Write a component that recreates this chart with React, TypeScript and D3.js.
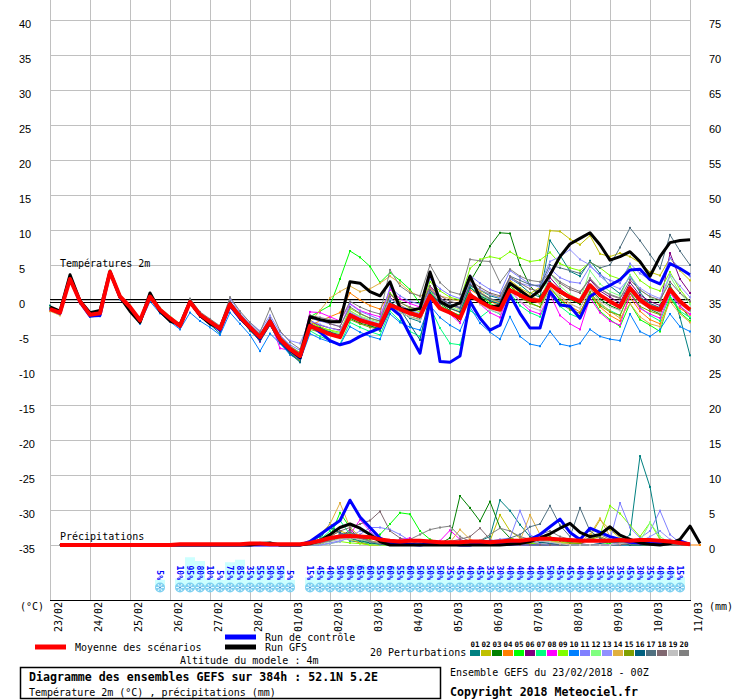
import React from 'react';
import * as d3 from 'd3';

// dates, one tick per day (00Z)
const dayLabels = ['23/02', '24/02', '25/02', '26/02', '27/02', '28/02', '01/03', '02/03', '03/03',
  '04/03', '05/03', '06/03', '07/03', '08/03', '09/03', '10/03', '11/03'];
const leftTicks = [40, 35, 30, 25, 20, 15, 10, 5, 0, -5, -10, -15, -20, -25, -30, -35];
const rightTicks = [75, 70, 65, 60, 55, 50, 45, 40, 35, 30, 25, 20, 15, 10, 5, 0];

const memberColors = ['#008080', '#c0c000', '#008000', '#ff8000', '#00ff00', '#800080', '#00ff80', '#ff00ff',
  '#80ff00', '#0080ff', '#8080ff', '#80ff80', '#9090ff', '#e0b040', '#80a000', '#006080', '#507080', '#806870',
  '#c0c0c0', '#808080'];

// 2m temperature, one value every 6h (0..384h)
const tMean = [-1.3, -1.8, 3.0, -0.2, -2.1, -1.9, 4.0, 0.5, -1.0, -2.9, 0.5, -1.4, -2.6, -3.7, -0.3, -2.1, -3.1, -4.1, -0.6, -2.4, -3.9, -5.3, -3.1, -5.6, -7.0, -8.0,
  -3.7, -4.3, -4.9, -5.3, -2.2, -2.9, -3.3, -3.7, -0.7, -1.3, -1.9, -2.3, 0.6, -1.2, -1.8, -2.6, 0.7, -0.2, -1.0, -1.4, 1.4, 0.7, 0.0, -0.1, 2.3, 1.2, 0.4, -0.2, 2.1, 0.7, -0.2, -1.0, 1.7, 0.0, -1.0, -1.4, 1.5, -0.2, -1.4];
const tCtl = [-1.2, -1.9, 3.2, -0.3, -2.3, -2.2, 4.0, 0.4, -1.2, -3.0, 0.5, -1.5, -2.7, -3.8, -0.3, -2.2, -3.2, -4.3, -0.8, -2.6, -4.0, -5.5, -3.2, -5.8, -7.2, -8.3,
  -3.5, -4.6, -5.8, -6.4, -6.0, -5.2, -4.6, -4.0, -1.0, -2.2, -5.0, -7.6, 0.0, -8.8, -8.9, -8.0, -0.2, -2.6, -4.3, -3.6, 0.7, -1.9, -4.0, -4.0, 1.2, -0.7, -0.9, -2.6, 0.5, 1.4, 2.1, 2.9, 4.3, 4.4, 2.9, 2.3, 5.2, 4.5, 3.6];
const tGfs = [-1.0, -1.6, 3.6, -0.1, -1.8, -1.5, 4.1, 0.4, -1.6, -3.2, 1.0, -1.6, -3.0, -3.5, -0.2, -2.2, -3.4, -4.0, -0.5, -2.5, -4.0, -5.4, -3.0, -5.6, -7.1, -8.2,
  -2.4, -2.8, -3.1, -3.1, 2.6, 2.4, 1.2, 0.6, 2.6, -1.2, -1.5, -1.2, 4.0, -0.2, -1.0, -0.4, 3.4, 0.3, -1.0, -0.8, 2.4, 1.4, 0.3, 1.4, 3.6, 6.2, 8.0, 8.8, 9.6, 7.9, 5.7, 6.2, 6.9, 5.5, 3.4, 6.2, 8.2, 8.5, 8.6];

const t01 = [-0.8, -1.9, 3.2, -0.3, -2.4, -2.3, 3.8, 0.3, -1.3, -3.3, 0.6, -1.7, -2.9, -3.9, -0.4, -2.4, -3.5, -4.8, -0.5, -2.6, -4.4, -5.6, -2.8, -5.9, -7.8, -8.6,
  -2.8, -3.9, -4.6, -5.1, -1.9, -2.8, -3.6, -4.4, -0.2, -1.5, -2.6, -3.1, 1.2, -0.8, -1.8, -2.2, 2.0, 1.4, 0.6, 0.2, 3.1, 2.2, 1.0, 0.4, 8.5, 6.4, 4.1, 3.4, 5.6, 3.8, 2.0, 0.9, 3.5, 1.1, -0.6, -1.8, 2.2, -2.5, -7.9];
const t02 = [-1.5, -2.0, 2.9, -0.1, -2.0, -1.8, 4.1, 0.6, -0.9, -2.8, 0.4, -1.3, -2.5, -3.6, -0.2, -2.0, -3.0, -4.0, -0.7, -2.3, -3.8, -5.1, -3.3, -5.4, -6.9, -7.7,
  -3.2, -3.8, -4.4, -4.8, -1.5, -2.4, -3.0, -3.5, 0.3, -0.8, -1.6, -2.1, 1.5, 0.2, -0.7, -1.3, 2.2, 1.4, 0.8, 0.4, 2.8, 1.7, 0.9, 1.8, 9.9, 9.8, 8.7, 7.9, 9.2, 6.6, 6.2, 6.7, 6.2, 5.3, 4.0, 3.5, 6.0, 4.2, 2.8];
const t03 = [-1.2, -1.7, 3.1, -0.2, -2.2, -2.0, 3.9, 0.4, -1.1, -3.0, 0.5, -1.5, -2.7, -3.8, -0.5, -2.3, -3.3, -4.4, -0.9, -2.5, -4.1, -5.6, -3.4, -6.0, -7.3, -8.4,
  -4.0, -4.5, -5.0, -5.4, -2.6, -3.3, -3.7, -4.1, -0.5, -1.4, -2.0, -2.5, 0.8, -0.5, -1.5, -3.2, 2.6, 5.0, 7.7, 9.6, 9.5, 5.0, 2.0, 0.5, 2.6, 1.0, 0.1, -0.6, 1.6, 0.1, -0.8, -1.4, 1.8, -0.2, -1.3, -2.0, 1.3, -0.8, -2.6];
const t04 = [-1.4, -1.8, 2.8, -0.4, -2.1, -2.0, 3.9, 0.6, -0.8, -2.7, 0.7, -1.2, -2.4, -3.5, -0.1, -2.0, -3.0, -3.9, -0.4, -2.2, -3.8, -5.2, -3.0, -5.5, -6.8, -7.8,
  -3.6, -3.0, -2.4, -1.8, 1.0, 0.0, -0.8, -1.3, 0.9, -0.7, -1.5, -2.0, 0.9, -0.4, -1.2, -1.8, 1.5, 0.6, -0.2, -0.8, 2.0, 0.9, 0.1, -0.5, 1.6, 0.2, -0.9, -1.7, 0.9, -1.0, -2.2, -3.0, 0.4, -1.6, -2.8, -3.4, 0.0, -1.2, -2.1];
const t05 = [-1.3, -1.7, 3.0, -0.1, -2.0, -1.8, 4.1, 0.6, -0.9, -2.8, 0.6, -1.3, -2.5, -3.6, -0.2, -2.0, -3.1, -4.0, -0.5, -2.4, -3.9, -5.8, -3.5, -6.2, -7.5, -8.8,
  -2.4, -1.6, -0.8, 3.0, 7.0, 6.1, 4.8, 2.5, 3.9, 2.8, 1.5, -0.5, 1.5, -0.8, -1.6, -2.2, 1.8, 0.7, -0.5, -1.2, 2.0, 0.6, -0.4, -1.0, 1.9, 0.0, -1.2, -2.4, 0.8, -1.6, -2.8, -3.8, -0.5, -2.8, -3.6, -4.5, 0.4, -1.8, -3.0];
const t06 = [-1.2, -1.9, 3.0, -0.2, -2.2, -1.9, 4.0, 0.5, -1.0, -2.9, 0.4, -1.4, -2.7, -3.8, -0.4, -2.2, -3.2, -4.3, -0.7, -2.5, -4.0, -5.5, -3.2, -5.8, -7.4, -8.5,
  -3.0, -3.6, -4.0, -4.3, -1.8, -2.6, -3.2, -3.6, 0.4, -1.0, -1.7, -2.0, 1.8, 0.3, -0.6, -1.1, 2.3, 1.0, 0.1, -0.3, 2.6, 1.3, 0.3, -0.4, 3.2, 1.6, 0.5, -0.2, 2.9, 1.3, 0.4, -0.4, 2.5, 0.7, -0.2, -0.8, 6.7, 3.0, 1.0];
const t07 = [-1.4, -1.9, 2.9, -0.3, -2.2, -2.0, 3.9, 0.4, -1.1, -3.0, 0.5, -1.5, -2.6, -3.7, -0.3, -2.2, -3.2, -4.2, -0.6, -2.5, -4.0, -5.4, -3.2, -5.7, -7.2, -8.3,
  -4.4, -5.2, -5.8, -6.3, -3.2, -3.9, -4.5, -5.0, -1.6, -3.0, -4.5, -5.2, -1.0, -4.0, -6.2, -6.4, -1.5, -2.5, -1.4, -2.0, 1.0, -0.8, -1.8, -2.4, 0.8, -0.9, -2.0, -2.6, 1.0, -0.6, -1.5, -2.2, 1.2, -1.0, -2.2, -3.0, 0.6, -1.6, -2.5];
const t08 = [-1.2, -1.7, 3.1, -0.1, -2.0, -1.8, 4.0, 0.6, -1.0, -2.8, 0.5, -1.4, -2.6, -3.6, -0.3, -2.1, -3.0, -4.0, -0.6, -2.3, -3.9, -6.0, -3.0, -6.9, -7.2, -7.8,
  -1.7, -1.8, -2.4, -3.0, -0.5, -1.5, -2.0, -2.4, 1.5, 0.2, -0.5, -1.0, 2.0, -0.8, -2.0, -3.3, 1.2, -0.6, -1.8, -2.5, 1.5, -0.2, -1.5, -2.0, 0.8, -2.2, -3.4, -4.2, 0.3, -1.8, -3.0, -3.6, 0.9, -1.2, -2.0, -2.6, 1.0, -0.9, -2.0];
const t09 = [-1.1, -1.6, 3.2, 0.0, -1.9, -1.7, 4.2, 0.7, -0.8, -2.7, 0.7, -1.2, -2.4, -3.5, -0.1, -1.9, -2.9, -3.8, -0.4, -2.1, -3.6, -5.0, -2.9, -5.3, -6.6, -7.5,
  -3.4, -3.9, -4.3, -4.6, -1.2, -2.0, -2.6, -3.0, 1.0, -0.3, -1.2, -1.7, 2.6, 1.3, 0.4, 0.0, 4.5, 5.8, 6.2, 5.9, 6.9, 6.0, 5.5, 5.7, 6.8, 5.2, 4.6, 4.2, 5.4, 4.6, 3.5, 3.0, 4.8, 2.8, 1.8, 1.3, 4.0, 1.5, -0.3];
const t10 = [-1.5, -2.1, 2.8, -0.5, -2.4, -2.3, 3.6, 0.1, -1.4, -3.4, -0.2, -1.9, -3.1, -4.2, -1.8, -3.0, -3.9, -5.0, -1.8, -3.4, -5.0, -7.3, -4.8, -6.2, -7.8, -8.7,
  -4.8, -5.5, -6.0, -6.4, -3.8, -4.6, -5.2, -5.6, -2.0, -3.2, -3.9, -4.3, -0.8, -2.5, -3.6, -4.4, -1.0, -3.3, -4.6, -5.6, -2.4, -5.2, -6.3, -6.6, -4.5, -6.3, -6.6, -6.2, -4.2, -5.2, -5.6, -5.8, -2.0, -4.5, -5.2, -4.2, -2.0, -3.8, -4.5];
const t11 = [-1.3, -1.8, 3.1, -0.2, -2.0, -1.9, 4.0, 0.5, -1.0, -2.9, 0.5, -1.4, -2.6, -3.7, -0.3, -2.1, -3.1, -4.1, -0.2, -2.0, -3.4, -4.8, -2.5, -5.0, -6.4, -7.2,
  -2.6, -3.0, -3.4, -3.8, -0.6, -1.6, -2.2, -2.8, 1.8, 0.6, -0.2, -0.6, 3.0, 1.6, 0.7, 0.2, 3.5, 2.4, 1.5, 1.0, 4.2, 3.2, 2.3, 1.8, 4.5, 3.2, 2.6, 2.4, 4.8, 3.6, 2.8, 2.4, 5.2, 3.8, 2.9, 2.4, 6.0, 4.5, 3.4];
const t12 = [-1.0, -1.5, 3.3, 0.1, -1.8, -1.6, 4.2, 0.8, -0.8, -2.6, 0.8, -1.1, -2.3, -3.4, 0.0, -1.8, -2.8, -3.8, -0.3, -2.1, -3.6, -5.0, -2.8, -5.2, -6.7, -7.6,
  -3.8, -4.1, -4.5, -4.8, -1.6, -2.3, -2.8, -3.2, 0.2, -0.9, -1.5, -2.0, 1.2, -0.2, -1.0, -1.5, 1.9, 0.8, 0.0, -0.5, 2.4, 1.0, 0.1, -0.4, 3.8, 2.0, 0.8, 0.0, 4.2, 2.3, 1.2, 0.6, 3.6, 1.5, 0.4, -0.3, 3.4, 1.0, -0.6];
const t13 = [-1.4, -1.9, 3.0, -0.3, -2.1, -2.0, 3.9, 0.4, -1.1, -3.0, 0.4, -1.5, -2.7, -3.8, -0.4, -2.2, -3.2, -4.2, 0.2, -1.8, -3.2, -4.4, -2.2, -4.6, -5.8, -6.2,
  -3.0, -3.5, -4.0, -4.4, -1.8, -2.5, -3.0, -3.4, 0.2, -0.8, -1.4, -1.9, 1.6, 0.2, -0.7, -1.2, 2.4, 1.5, 0.8, 0.3, 3.0, 2.4, 2.0, 2.2, 5.5, 6.2, 7.2, 5.8, 5.0, 3.4, 2.2, 1.6, 3.2, 1.7, 0.8, 0.2, 3.6, 2.0, 0.4];
const t14 = [-1.6, -2.2, 2.7, -0.5, -2.3, -2.1, 3.8, 0.3, -1.2, -3.1, 0.3, -1.6, -2.8, -3.9, -0.5, -2.3, -3.3, -4.4, -0.9, -2.7, -4.2, -5.8, -3.6, -6.0, -7.4, -8.4,
  -3.2, -1.5, 0.3, 1.2, 2.0, 1.2, 1.6, 2.4, 3.4, 2.4, 1.2, 0.5, 1.6, 0.6, 0.2, -0.2, 2.8, 1.2, 0.2, -0.4, 2.6, 1.5, 0.6, 0.0, 2.2, 0.6, -0.5, -1.2, 1.7, -0.4, -1.6, -2.6, -0.5, -2.4, -3.4, -3.8, -0.2, -2.0, -3.2];
const t15 = [-1.3, -1.9, 3.0, -0.2, -2.2, -2.0, 3.9, 0.4, -1.1, -3.0, 0.4, -1.5, -2.7, -3.8, -0.4, -2.2, -3.2, -4.2, -0.8, -2.6, -4.0, -5.6, -3.3, -5.9, -7.6, -8.7,
  -4.2, -4.6, -5.0, -5.2, -2.8, -3.4, -3.9, -4.2, -0.6, -1.8, -2.4, -2.8, 0.5, -0.9, -1.8, -2.4, 1.0, -0.1, -0.8, -1.2, 1.6, 0.4, -0.5, -1.0, 1.4, -0.4, -1.4, -1.9, 1.2, -0.8, -1.7, -2.2, 1.0, -0.9, -1.6, -2.1, 2.0, 0.0, -1.2];
const t16 = [-1.2, -1.8, 3.1, -0.2, -2.3, -2.2, 3.8, 0.3, -1.2, -3.1, 0.4, -1.6, -2.8, -3.9, -0.6, -2.4, -3.4, -4.5, -1.0, -2.8, -4.3, -5.9, -3.6, -6.1, -7.6, -8.9,
  -3.5, -4.0, -4.6, -5.0, -2.0, -2.8, -3.3, -3.8, -0.2, -1.3, -3.5, -5.7, 1.0, -0.4, -1.2, -1.7, 1.8, 0.6, -0.1, -0.6, 2.2, 1.2, 0.4, -0.1, 2.6, 1.2, 0.3, -0.3, 2.2, 0.7, -0.1, -0.7, 2.0, 0.4, -0.5, -1.1, 1.8, -0.2, -1.5];
const t17 = [-1.1, -1.7, 3.1, -0.1, -2.0, -1.8, 4.0, 0.5, -1.0, -2.9, 0.6, -1.3, -2.5, -3.6, -0.2, -2.0, -3.0, -4.0, -0.5, -2.3, -3.8, -5.3, -3.0, -5.5, -7.0, -8.1,
  -3.6, -4.2, -4.8, -5.2, -2.4, -3.0, -3.5, -3.9, -0.4, -1.5, -2.1, -2.6, 1.4, 0.2, -0.6, -1.1, 2.2, 1.0, 0.2, -0.2, 3.4, 2.8, 2.2, 2.0, 5.0, 4.6, 4.2, 3.8, 5.4, 4.6, 5.0, 7.5, 10.3, 8.5, 6.5, 4.5, 9.3, 7.0, 5.0];
const t18 = [-1.3, -1.8, 3.0, -0.2, -2.1, -1.9, 4.0, 0.5, -1.0, -2.9, 0.5, -1.4, -2.6, -3.7, -0.3, -2.1, -3.1, -4.1, -0.2, -2.0, -3.6, -4.9, -2.6, -5.2, -6.6, -7.6,
  -2.2, -2.8, -3.4, -3.8, -1.0, -1.9, -2.6, -3.0, 0.8, -0.4, -1.0, -1.4, 2.0, 0.6, -0.2, -0.6, 2.8, 1.8, 1.0, 0.6, 3.3, 2.4, 1.6, 1.2, 3.8, 2.4, 1.5, 1.0, 3.1, 1.6, 0.7, 0.2, 2.9, 1.4, 0.5, 0.0, 2.6, 1.0, -0.2];
const t19 = [-1.4, -2.0, 2.9, -0.3, -2.2, -2.0, 3.9, 0.4, -1.1, -3.0, 0.4, -1.5, -2.7, -3.7, -0.4, -2.2, -3.1, -4.1, -0.7, -2.5, -4.0, -5.4, -3.1, -5.6, -7.1, -8.1,
  -4.0, -4.4, -4.8, -5.1, -2.2, -2.9, -3.4, -3.8, -0.8, -1.8, -2.4, -2.9, 0.4, -1.0, -1.9, -2.5, 0.8, -0.6, -1.4, -1.9, 1.2, -0.2, -1.0, -1.5, 1.8, 0.4, -0.6, -1.2, 1.5, -0.2, -1.0, -1.5, 1.2, -0.4, -1.2, -1.8, 1.1, -0.6, -1.6];
const t20 = [-1.2, -1.7, 3.1, -0.1, -2.0, -1.8, 4.1, 0.6, -0.9, -2.8, 0.6, -1.3, -2.5, -3.6, 0.2, -1.7, -2.7, -3.7, 0.4, -1.6, -3.2, -4.6, -1.2, -4.4, -6.0, -7.0,
  -2.2, -2.5, -2.8, -3.0, -0.2, -1.0, -1.6, -2.0, 4.3, 2.0, 1.0, 0.6, 5.0, 2.5, 1.2, 0.8, 5.8, 5.6, 5.5, 2.5, 4.4, 3.4, 2.8, 2.6, 3.8, 2.6, 1.8, 1.2, 3.0, 1.6, 0.8, 0.3, 2.0, 0.4, -0.6, -1.2, 1.6, -0.4, -1.5];
const tMembers = [t01, t02, t03, t04, t05, t06, t07, t08, t09, t10, t11, t12, t13, t14, t15, t16, t17, t18, t19, t20];

// precipitation (mm / 6h), first value unused
const pMean = [0, 0, 0, 0, 0, 0, 0, 0, 0, 0, 0, 0, 0, 0.1, 0.1, 0.1, 0.1, 0.1, 0.1, 0.1, 0.2, 0.2, 0.1, 0.1, 0.1, 0.1,
  0.3, 0.6, 1.0, 1.2, 1.3, 1.2, 1.1, 0.8, 0.6, 0.5, 0.6, 0.6, 0.5, 0.4, 0.4, 0.4, 0.5, 0.5, 0.4, 0.5, 0.6, 0.6, 0.8, 0.9, 0.9, 0.8,
  0.7, 0.6, 0.6, 0.6, 0.6, 0.7, 0.6, 0.7, 0.7, 0.6, 0.5, 0.3, 0.1];
const pCtl = [0, 0, 0, 0, 0, 0, 0, 0, 0, 0, 0, 0, 0, 0, 0, 0, 0, 0, 0, 0, 0, 0, 0, 0, 0, 0,
  0.5, 1.5, 2.5, 3.5, 6.4, 4.0, 2.5, 1.0, 0.3, 0.2, 0.1, 0, 0.2, 0.3, 0.2, 0, 0, 0.3, 0.5, 0.2, 0.1, 0.4, 0.8, 1.5, 2.6, 3.7,
  1.8, 0.8, 2.4, 1.8, 1.2, 0.8, 0.4, 0.3, 0.2, 0.2, 0.4, 0.6, 0.1];
const pGfs = [0, 0, 0, 0, 0, 0, 0, 0, 0, 0, 0, 0, 0, 0, 0, 0, 0, 0, 0, 0, 0, 0.2, 0.3, 0, 0, 0,
  0.2, 0.6, 1.5, 2.5, 3.0, 2.4, 1.5, 0.5, 0, 0, 0, 0, 0, 0, 0, 0, 0, 0, 0, 0, 0.1, 0.2, 0.5, 1.0, 1.6, 2.4, 3.1,
  1.8, 1.2, 1.5, 2.6, 1.4, 0.8, 0.3, 0.1, 0, 0.2, 0.8, 2.7, 0.2];
const p01 = [0, 0, 0, 0, 0, 0, 0, 0, 0, 0, 0, 0, 0, 0, 0, 0, 0, 0, 0, 0, 0, 0.3, 0.2, 0, 0, 0,
  0.4, 0.8, 3.1, 1.5, 0.6, 0.4, 0.2, 0.1, 0, 0, 0, 0, 0.1, 0.2, 0.3, 0.5, 0.4, 0.6, 1.2, 6.4, 4.9, 2.9, 1.2, 0.8, 0.4, 0.2,
  0.1, 0, 0, 0, 0.1, 0.2, 1.5, 12.7, 8.3, 0.5, 0.2, 0, 0];
const p02 = [0, 0, 0, 0, 0, 0, 0, 0, 0, 0, 0, 0, 0, 0, 0, 0, 0, 0, 0, 0, 0, 0, 0, 0, 0, 0,
  0, 0.5, 1.2, 2.0, 1.5, 0.8, 0.3, 0, 0, 0, 0, 0, 0, 0, 0, 0, 0, 0, 0.6, 4.3, 2.0, 1.0, 0.4, 0.2, 0, 0,
  0, 0, 1.2, 3.6, 2.2, 1.0, 0.3, 0, 0, 0, 0, 0, 0];
const p03 = [0, 0, 0, 0, 0, 0, 0, 0, 0, 0, 0, 0, 0, 0, 0, 0, 0, 0, 0, 0, 0, 0, 0, 0, 0, 0,
  0, 0, 0.8, 1.5, 1.0, 0.4, 0.2, 0, 0, 0, 0, 0, 0, 0.2, 1.0, 7.0, 5.3, 3.4, 6.2, 2.5, 1.0, 0.5, 0.2, 0, 0, 0,
  0, 0, 0, 0, 0, 0.2, 0.4, 0.2, 0, 0, 0, 0, 0];
const p04 = [0, 0, 0, 0, 0, 0, 0, 0, 0, 0, 0, 0, 0, 0, 0, 0, 0, 0, 0, 0, 0, 0.1, 0.1, 0, 0, 0,
  0, 0.2, 0.6, 1.0, 0.8, 0.3, 0, 0, 0, 0, 0, 0, 0, 0, 0, 0, 0, 0, 0, 0, 0, 0.2, 0.4, 0.6, 0.3, 0, 0,
  0, 0, 0, 0, 0, 0.4, 0.6, 0.2, 0, 0, 0, 0, 0];
const p05 = [0, 0, 0, 0, 0, 0, 0, 0, 0, 0, 0, 0, 0, 0, 0, 0, 0, 0, 0, 0, 0, 0, 0, 0, 0, 0,
  0.3, 0.8, 1.2, 4.6, 2.5, 1.2, 0.8, 1.5, 3.0, 4.6, 4.4, 2.0, 0.8, 0.3, 0.2, 0, 0, 0, 0, 0.1, 0.3, 0.5, 0.2, 0, 0, 0,
  0, 0, 0, 0, 0.3, 0.6, 0.3, 0.1, 0, 0, 0, 0, 0];
const p06 = [0, 0, 0, 0, 0, 0, 0, 0, 0, 0, 0, 0, 0, 0, 0, 0, 0, 0, 0, 0, 0, 0, 0, 0, 0, 0,
  0, 0.3, 0.6, 1.0, 2.2, 1.0, 0.4, 0.2, 0, 0, 0, 0, 0, 0, 0, 0, 0, 0, 0, 0.2, 0.4, 0.2, 0, 0.3, 0.6, 0.8,
  0.4, 0.2, 0, 0, 0, 0, 0, 0, 0, 0, 0, 0, 0];
const p07 = [0, 0, 0, 0, 0, 0, 0, 0, 0, 0, 0, 0, 0, 0, 0, 0, 0, 0, 0, 0, 0, 0, 0, 0, 0, 0,
  0.2, 0.8, 2.0, 3.5, 1.5, 0.8, 0.3, 0.2, 0.1, 0, 0, 0, 0, 0, 0, 0, 0, 0, 0.2, 0.4, 0.6, 0.3, 0, 0, 0, 0.2,
  0.3, 0.1, 0, 0, 0, 0, 0, 0, 0, 0, 0, 0, 0];
const p08 = [0, 0, 0, 0, 0, 0, 0, 0, 0, 0, 0, 0, 0, 0, 0, 0, 0, 0, 0, 0, 0, 0, 0, 0, 0, 0,
  0, 0.3, 0.8, 1.5, 1.5, 3.6, 2.0, 0.5, 0.2, 0.8, 1.0, 0.3, 0.1, 0.6, 2.1, 0.8, 0.2, 0, 0, 0, 0, 0, 0, 0, 0, 0,
  0, 0, 0, 0, 0, 0.2, 0.5, 0.3, 0, 0, 0, 0, 0];
const p09 = [0, 0, 0, 0, 0, 0, 0, 0, 0, 0, 0, 0, 0, 0, 0, 0, 0, 0, 0, 0, 0, 0, 0, 0, 0, 0,
  0, 0, 0.2, 0.5, 0.3, 0.2, 0, 0, 0, 0, 0, 0, 0, 0, 0, 0, 0, 0, 0.4, 0.6, 1.0, 0.5, 0.2, 0.3, 0.6, 0.4,
  0.2, 0.4, 0.8, 1.5, 5.6, 4.5, 2.8, 1.2, 3.2, 0.8, 0.2, 0, 0];
const p10 = [0, 0, 0, 0, 0, 0, 0, 0, 0, 0, 0, 0, 0, 0, 0, 0, 0, 0, 0, 0, 0, 0, 0, 0, 0, 0,
  0.2, 0.5, 0.8, 1.2, 0.8, 1.2, 1.0, 0.6, 0.3, 0, 0, 0, 0, 0, 0.2, 0.4, 0.3, 0, 0, 0, 0, 0, 0, 0, 0, 0,
  0, 0, 0, 0, 0, 0, 0, 0, 0.2, 0.4, 0.2, 0, 0];
const p11 = [0, 0, 0, 0, 0, 0, 0, 0, 0, 0, 0, 0, 0, 0, 0, 0, 0, 0, 0, 0, 0, 0, 0, 0, 0, 0,
  0, 0, 0.3, 0.6, 1.0, 1.5, 2.5, 2.5, 2.2, 1.5, 0.6, 0.2, 0, 0, 0, 0, 0, 0.3, 0.6, 0.8, 1.0, 4.9, 1.5, 0.6, 0.3, 0,
  0, 0, 0, 0.2, 0.8, 6.0, 2.5, 1.0, 2.0, 4.9, 1.5, 0.3, 0];
const p12 = [0, 0, 0, 0, 0, 0, 0, 0, 0, 0, 0, 0, 0, 0, 0, 0, 0, 0, 0, 0, 0, 0, 0, 0, 0, 0,
  0, 0.2, 0.5, 1.0, 0.8, 0.5, 0.2, 0, 0, 0, 0, 0, 0, 0, 0, 0, 0, 0, 0, 0, 0, 0.2, 0.5, 0.8, 0.5, 0.2,
  0, 0, 0, 0, 0.5, 1.0, 0.8, 0.5, 3.2, 1.2, 0.3, 0, 0];
const p13 = [0, 0, 0, 0, 0, 0, 0, 0, 0, 0, 0, 0, 0, 0, 0, 0, 0, 0, 0, 0, 0, 0, 0, 0, 0, 0,
  0, 0, 0.2, 0.5, 1.2, 2.0, 1.8, 1.0, 0.5, 0.2, 0, 0, 0, 0, 0, 0, 0, 0, 0, 0, 0.3, 0.8, 0.5, 0.2, 0, 0,
  0, 0, 0, 0, 0, 0.4, 0.8, 0.5, 1.2, 2.0, 0.8, 0.2, 0];
const p14 = [0, 0, 0, 0, 0, 0, 0, 0, 0, 0, 0, 0, 0, 0, 0, 0, 0, 0, 0, 0, 0, 0, 0, 0, 0, 0,
  0.5, 1.5, 3.0, 6.0, 2.5, 1.2, 0.6, 0.3, 0, 0, 0, 0, 0, 0, 0.4, 2.2, 0.8, 0.3, 0, 0, 0, 0.6, 4.3, 1.5, 0.6, 0.3,
  0.2, 0.5, 1.5, 3.8, 1.2, 0.5, 0.3, 0.1, 0, 0, 0.3, 0.5, 0];
const p15 = [0, 0, 0, 0, 0, 0, 0, 0, 0, 0, 0, 0, 0, 0, 0, 0, 0, 0, 0, 0, 0, 0, 0, 0, 0, 0,
  0, 0.2, 0.6, 1.2, 1.8, 1.2, 0.6, 0.3, 0, 0, 0, 0, 0, 0, 0, 0, 0, 0, 0.2, 0.5, 0.8, 0.4, 0.2, 0.8, 1.2, 0.6,
  0.3, 0.2, 0.8, 1.2, 0.6, 0.2, 0, 0, 0, 0, 0, 0, 0];
const p16 = [0, 0, 0, 0, 0, 0, 0, 0, 0, 0, 0, 0, 0, 0, 0, 0, 0, 0, 0, 0, 0, 0.2, 0.3, 0.1, 0, 0,
  0.3, 1.2, 2.5, 1.8, 1.0, 0.6, 0.3, 0.1, 0, 0, 0, 0, 0, 0, 0, 0, 0, 0, 0, 0.2, 0.3, 0.5, 0.8, 0.4, 0.2, 0,
  0, 0, 0, 0.2, 0.5, 0.3, 0, 0, 0, 0, 0, 0, 0];
const p17 = [0, 0, 0, 0, 0, 0, 0, 0, 0, 0, 0, 0, 0, 0, 0, 0, 0, 0, 0, 0, 0, 0, 0, 0, 0, 0,
  0, 0.3, 0.8, 1.5, 1.8, 1.2, 0.5, 0.2, 0, 0, 0, 0, 0, 0, 0, 0, 0, 0, 0.2, 0.5, 1.0, 1.5, 2.6, 3.0, 5.6, 2.8,
  1.2, 5.3, 2.0, 1.0, 0.5, 0.3, 0.2, 0.5, 0.8, 0.3, 0, 0, 0];
const p18 = [0, 0, 0, 0, 0, 0, 0, 0, 0, 0, 0, 0, 0, 0, 0, 0, 0, 0, 0, 0, 0, 0, 0, 0, 0, 0,
  0, 0.5, 1.2, 2.0, 2.5, 3.0, 3.5, 4.8, 2.0, 1.0, 0.5, 0.2, 0, 0.2, 0.5, 0.8, 1.2, 2.4, 0.8, 0.3, 0, 0, 0, 0, 0, 0,
  0, 0, 0, 0, 0, 0, 0.2, 0.4, 0.2, 0, 0, 0, 0];
const p19 = [0, 0, 0, 0, 0, 0, 0, 0, 0, 0, 0, 0, 0, 0, 0, 0, 0, 0, 0, 0, 0, 0, 0, 0, 0, 0,
  0, 0.2, 0.5, 0.8, 1.0, 0.8, 0.5, 0.3, 0.2, 0.1, 0, 0, 0, 0, 0, 0, 0, 0, 0, 0, 0, 0.2, 0.4, 0.6, 0.4, 0.2, 0,
  0, 0, 0, 0, 0.2, 0.3, 0.2, 0, 0.3, 0.5, 0.2, 0];
const p20 = [0, 0, 0, 0, 0, 0, 0, 0, 0, 0, 0, 0, 0, 0, 0, 0, 0, 0, 0, 0, 0, 0, 0, 0, 0, 0,
  0, 0.3, 0.6, 1.2, 1.5, 1.0, 0.5, 0.2, 0.1, 0.3, 0.8, 1.5, 2.2, 2.5, 2.7, 1.2, 0.5, 0.6, 1.5, 2.4, 2.0, 1.2, 0.8, 1.5, 2.0, 1.2,
  0.8, 0.6, 1.0, 1.5, 0.8, 0.4, 0.2, 0.1, 0, 0, 0, 0, 0];
const pMembers = [p01, p02, p03, p04, p05, p06, p07, p08, p09, p10, p11, p12, p13, p14, p15, p16, p17, p18, p19, p20];

// probability of snow (%), null = none
const snowPct: (number | null)[] = [null, null, null, null, null, null, null, null, null, null, null, 5, null,
  10, 95, 80, 10, 5, 75, 85, 35, 55, 50, 50, 5, null,
  15, 45, 40, 50, 60, 65, 60, 55, 60, 55, 60, 50, 50, 50, 35, 45, 40, 45, 35, 30, 40, 40, 40, 40, 50, 45, 45,
  40, 40, 35, 35, 35, 45, 30, 35, 40, 40, 15, null];

const mono = "'DejaVu Sans Mono', monospace";
const sans = "'Liberation Sans', Arial, sans-serif";

const x = d3.scaleLinear().domain([0, 384]).range([50, 690]);
const yT = d3.scaleLinear().domain([-35, 40]).range([545, 20]);
const yP = d3.scaleLinear().domain([0, 75]).range([545, 20]);
const ySnow = d3.scaleLinear().domain([0, 100]).range([581, 556]);

const tLine = d3.line<number>().x((_, i) => x(i * 6)).y(d => yT(d));
const pLine = d3.line<number>().defined((_, i) => i > 0).x((_, i) => x(i * 6)).y(d => yP(d));

const Marks = ({ values, color, scale, skipFirst }: { values: number[]; color: string; scale: any; skipFirst?: boolean }) => (
  <g fill={color}>
    {values.map((v, i) => (skipFirst && i === 0 ? null :
      <rect key={i} x={x(i * 6) - 1} y={scale(v) - 1} width={2} height={2} />))}
  </g>
);

const App = () => {
  const gridY = leftTicks.map(t => yT(t));
  return (
    <svg width={740} height={700} style={{ position: 'absolute', left: 0, top: 0, background: '#fff' }}>
      <rect width={740} height={700} fill="#fff" />
      {/* grid */}
      <g stroke="#c0c0c0" strokeWidth={1}>
        {dayLabels.map((_, d) => (
          <line key={'v' + d} x1={x(d * 24) + 0.5} x2={x(d * 24) + 0.5} y1={0} y2={600} />
        ))}
        {gridY.map((y, k) => (
          <line key={'h' + k} x1={50} x2={690} y1={y + 0.5} y2={y + 0.5} />
        ))}
      </g>
      <line x1={50} x2={690} y1={yT(0) - 0.5} y2={yT(0) - 0.5} stroke="#000" />
      <line x1={50} x2={690} y1={yT(0) + 2.5} y2={yT(0) + 2.5} stroke="#000" />
      <line x1={50} x2={691} y1={600.5} y2={600.5} stroke="#000" />

      {/* axis labels */}
      <g fontFamily={sans} fontSize={11} fill="#000">
        {leftTicks.map(t => (
          <text key={'l' + t} x={19} y={yT(t) + 7.5}>{t}</text>
        ))}
        {rightTicks.map(t => (
          <text key={'r' + t} x={709} y={yP(t) + 7.5}>{t}</text>
        ))}
      </g>
      <g fontFamily={mono} fontSize={10} fill="#000">
        <text x={20} y={610}>(°C)</text>
        <text x={709} y={610}>(mm)</text>
        {dayLabels.map((lab, d) => (
          <text key={lab} transform={`translate(${x(d * 24) + 11.5},602) rotate(-90)`} textAnchor="end">{lab}</text>
        ))}
        <text x={60} y={267}>Températures 2m</text>
        <text x={60} y={540}>Précipitations</text>
      </g>

      {/* snow probability */}
      <g>
        {snowPct.map((p, i) => (p === null ? null :
          <rect key={'sb' + i} x={x(i * 6) - 5} y={ySnow(p)} width={10} height={588 - ySnow(p)} fill="#ccffff" />))}
        {snowPct.map((p, i) => (p === null ? null :
          <g key={'sf' + i} transform={`translate(${x(i * 6)},587.5)`}>
            <circle r={5} fill="#7fd0f0" />
            <g stroke="#e6f8ff" strokeWidth={1}>
              <line x1={-4} x2={4} y1={0} y2={0} />
              <line x1={-2} x2={2} y1={-3.5} y2={3.5} />
              <line x1={2} x2={-2} y1={-3.5} y2={3.5} />
            </g>
            <circle r={1} fill="#3a8fd8" />
          </g>))}
        <g fontFamily={mono} fontSize={8} fontWeight="bold" fill="#0000ff">
          {snowPct.map((p, i) => (p === null ? null :
            <text key={'st' + i} transform={`translate(${x(i * 6) - 3.5},580) rotate(90)`} textAnchor="end">{p}%</text>))}
        </g>
      </g>

      {/* perturbations */}
      {tMembers.map((m, k) => (
        <g key={'tm' + k}>
          <path d={tLine(m) || ''} fill="none" stroke={memberColors[k]} strokeWidth={1} />
          <Marks values={m} color={memberColors[k]} scale={yT} />
        </g>
      ))}
      {pMembers.map((m, k) => (
        <g key={'pm' + k}>
          <path d={pLine(m) || ''} fill="none" stroke={memberColors[k]} strokeWidth={1} />
          <Marks values={m} color={memberColors[k]} scale={yP} skipFirst />
        </g>
      ))}

      {/* control, GFS, mean */}
      <path d={tLine(tCtl) || ''} fill="none" stroke="#0000ff" strokeWidth={3} strokeLinejoin="round" />
      <path d={pLine(pCtl) || ''} fill="none" stroke="#0000ff" strokeWidth={3} strokeLinejoin="round" />
      <path d={tLine(tGfs) || ''} fill="none" stroke="#000" strokeWidth={3} strokeLinejoin="round" />
      <path d={pLine(pGfs) || ''} fill="none" stroke="#000" strokeWidth={3} strokeLinejoin="round" />
      <path d={tLine(tMean) || ''} fill="none" stroke="#ff0000" strokeWidth={4} strokeLinejoin="round" />
      <path d={pLine(pMean) || ''} fill="none" stroke="#ff0000" strokeWidth={4} strokeLinejoin="round" />

      {/* legend */}
      <line x1={35} x2={66} y1={647} y2={647} stroke="#ff0000" strokeWidth={5} />
      <line x1={225} x2={256} y1={637} y2={637} stroke="#0000ff" strokeWidth={5} />
      <line x1={225} x2={256} y1={647} y2={647} stroke="#000" strokeWidth={5} />
      <g fontFamily={mono} fontSize={10} fill="#000">
        <text x={75} y={650.5}>Moyenne des scénarios</text>
        <text x={265} y={640.5}>Run de contrôle</text>
        <text x={265} y={650.5}>Run GFS</text>
        <text x={180} y={663.5}>Altitude du modele : 4m</text>
        <text x={370} y={655.5}>20 Perturbations</text>
        <text x={450} y={675.5}>Ensemble GEFS du 23/02/2018 - 00Z</text>
        <text x={29} y={695.5}>Température 2m (°C) , précipitations (mm)</text>
      </g>
      <g fontFamily={mono} fontSize={7.5} fontWeight="bold" fill="#000" textAnchor="middle">
        {memberColors.map((c, k) => (
          <text key={'ln' + k} x={475 + k * 11} y={647}>{String(k + 1).padStart(2, '0')}</text>
        ))}
      </g>
      {memberColors.map((c, k) => (
        <rect key={'lb' + k} x={470 + k * 11} y={650} width={10} height={6} fill={c} />
      ))}
      <rect x={20.5} y={667.5} width={420} height={31} fill="none" stroke="#000" strokeWidth={1.5} />
      <g fontFamily={mono} fontSize={11.5} fontWeight="bold" fill="#000">
        <text x={29} y={681} textLength={349} lengthAdjust="spacingAndGlyphs">Diagramme des ensembles GEFS sur 384h : 52.1N 5.2E</text>
        <text x={450} y={696} textLength={188} lengthAdjust="spacingAndGlyphs">Copyright 2018 Meteociel.fr</text>
      </g>
    </svg>
  );
};

export default App;
